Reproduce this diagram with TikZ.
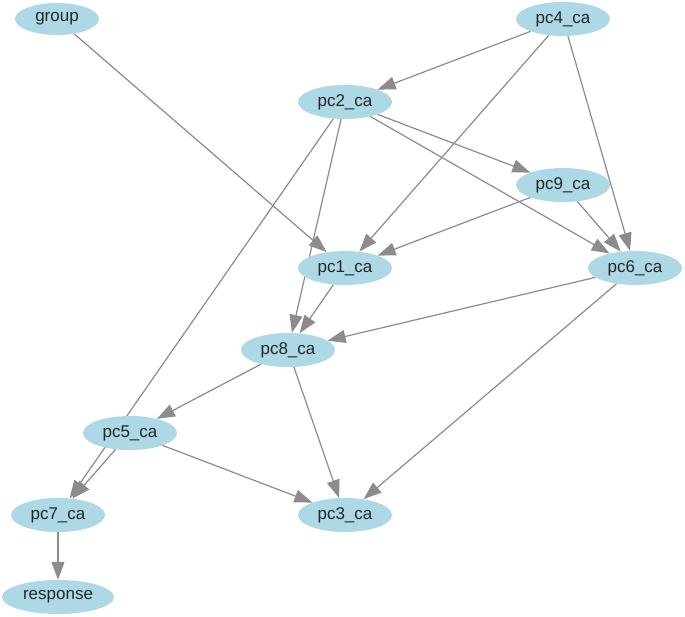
\documentclass[tikz,border=0pt]{standalone}
\usepackage{fontspec}
\setmainfont{Liberation Sans}
\usetikzlibrary{shapes.geometric,arrows.meta,backgrounds}
\definecolor{nodefill}{HTML}{ADD8E6}
\definecolor{edgecol}{HTML}{8C8C8C}
\begin{document}
\begin{tikzpicture}[x=1pt,y=-1pt,
  vnode/.style={ellipse,fill=nodefill,draw=none,inner sep=0pt,minimum width=94pt,minimum height=34pt,font=\fontsize{17}{19}\selectfont,text=black!85},
  edge/.style={draw=edgecol,line width=1.2pt,-{Triangle[length=18pt,width=13pt]}}]
\useasboundingbox (0,0) rectangle (685,617);
\node[vnode,minimum width=84pt,minimum height=32pt] (group) at (57,19) {group};
\node[vnode] (pc4) at (563,19) {pc4\_ca};
\node[vnode] (pc2) at (345,102) {pc2\_ca};
\node[vnode] (pc9) at (563,185) {pc9\_ca};
\node[vnode] (pc1) at (345,268) {pc1\_ca};
\node[vnode] (pc6) at (635,268) {pc6\_ca};
\node[vnode] (pc8) at (288,350) {pc8\_ca};
\node[vnode] (pc5) at (130,433) {pc5\_ca};
\node[vnode] (pc7) at (58,515) {pc7\_ca};
\node[vnode] (pc3) at (345,515) {pc3\_ca};
\node[vnode,minimum width=112pt] (response) at (58,597) {response};
\begin{scope}[on background layer]
\fill[white] (0,0) rectangle (685,617);
\path[edge] (group) -- (pc1);
\path[edge] (pc4) -- (pc2);
\path[edge] (pc4) -- (pc1);
\path[edge] (pc4) -- (pc6);
\path[edge] (pc2) -- (pc9);
\path[edge] (pc2) -- (pc6);
\path[edge] (pc2) -- (pc8);
\path[edge] (pc2) -- (pc7);
\path[edge] (pc9) -- (pc1);
\path[edge] (pc9) -- (pc6);
\path[edge] (pc1) -- (pc8);
\path[edge] (pc6) -- (pc8);
\path[edge] (pc6) -- (pc3);
\path[edge] (pc8) -- (pc5);
\path[edge] (pc8) -- (pc3);
\path[edge] (pc5) -- (pc7);
\path[edge] (pc5) -- (pc3);
\path[edge] (pc7) -- (response);
\end{scope}
\end{tikzpicture}
\end{document}
